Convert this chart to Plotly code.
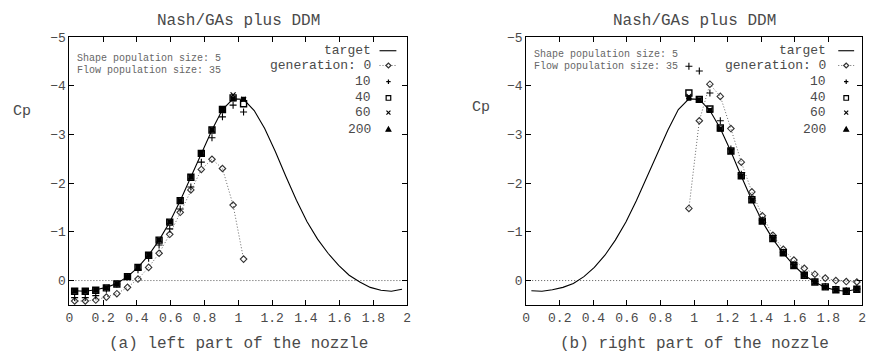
import plotly.graph_objects as go

# ---------------- data ----------------
x_grid = [0.031, 0.094, 0.156, 0.219, 0.281, 0.344, 0.406, 0.469, 0.531, 0.594,
          0.656, 0.719, 0.781, 0.844, 0.906, 0.969, 1.031, 1.094, 1.156, 1.219,
          1.281, 1.344, 1.406, 1.469, 1.531, 1.594, 1.656, 1.719, 1.781, 1.844,
          1.906, 1.969]
target = [0.21, 0.22, 0.19, 0.14, 0.06, -0.08, -0.27, -0.52, -0.83, -1.20,
          -1.64, -2.12, -2.61, -3.09, -3.51, -3.73, -3.72, -3.49, -3.12, -2.65,
          -2.14, -1.65, -1.21, -0.85, -0.56, -0.31, -0.11, 0.03, 0.14, 0.20,
          0.22, 0.18]

x_left = x_grid[:17]
x_right = x_grid[15:]

gen0_left = [0.42, 0.42, 0.40, 0.34, 0.27, 0.14, -0.03, -0.27, -0.56, -0.95,
             -1.40, -1.86, -2.28, -2.49, -2.30, -1.55, -0.44]
gen10_left = [0.35, 0.35, 0.31, 0.18, 0.07, -0.08, -0.22, -0.46, -0.73, -1.06,
              -1.47, -1.92, -2.43, -2.93, -3.36, -3.60, -3.46]
gen40_left = [0.22, 0.22, 0.20, 0.15, 0.07, -0.08, -0.27, -0.52, -0.83, -1.20,
              -1.64, -2.12, -2.61, -3.09, -3.51, -3.75, -3.63]
gen60_left = [0.21, 0.22, 0.19, 0.14, 0.06, -0.09, -0.28, -0.53, -0.84, -1.21,
              -1.65, -2.13, -2.62, -3.10, -3.53, -3.81, -3.72]
gen200_left = [0.22, 0.22, 0.20, 0.15, 0.07, -0.08, -0.27, -0.52, -0.83, -1.20,
               -1.64, -2.12, -2.61, -3.09, -3.51, -3.73, -3.72]

gen0_right = [-1.48, -3.28, -4.03, -3.78, -3.12, -2.43, -1.82, -1.33, -0.93,
              -0.64, -0.42, -0.25, -0.13, -0.05, 0.00, 0.02, 0.03]
gen10_right = [-4.40, -4.30, -3.85, -3.28, -2.70, -2.18, -1.68, -1.24, -0.88,
               -0.58, -0.33, -0.13, 0.02, 0.12, 0.18, 0.21, 0.17]
gen40_right = [-3.85, -3.72, -3.52, -3.13, -2.66, -2.15, -1.66, -1.22, -0.86,
               -0.57, -0.31, -0.11, 0.03, 0.13, 0.19, 0.22, 0.18]
gen60_right = [-3.78, -3.71, -3.50, -3.12, -2.65, -2.14, -1.65, -1.21, -0.85,
               -0.56, -0.31, -0.11, 0.03, 0.14, 0.20, 0.22, 0.18]
gen200_right = [-3.74, -3.71, -3.49, -3.11, -2.65, -2.14, -1.65, -1.21, -0.86,
                -0.56, -0.30, -0.11, 0.03, 0.13, 0.19, 0.22, 0.18]

title_text = "Nash/GAs plus DDM"
xlabels = ["(a) left part of the nozzle", "(b) right part of the nozzle"]
legend_labels = ["target", "generation: 0", "10", "40", "60", "200"]
info_lines = ["Shape population size: 5", "Flow population size: 35"]

# ---------------- layout helpers ----------------
W, H = 872, 358
FONT = "Liberation Mono, Courier New, monospace"
TXT = "#4a4a4a"
DOT = "1px,2px"


def px(x):
    return x / W


def py(y):
    return 1 - y / H


fig = go.Figure()

panels = [
    dict(xa="x", ya="y", left=66, right=407, x=x_left,
         g0=gen0_left, g10=gen10_left, g40=gen40_left, g60=gen60_left, g200=gen200_left,
         key_text=372, key_mid=388, key_l=379, key_r=396, cp_x=18, cp_y=107,
         info_x=72, info_y=[53, 66]),
    dict(xa="x2", ya="y2", left=527, right=866, x=x_right,
         g0=gen0_right, g10=gen10_right, g40=gen40_right, g60=gen60_right, g200=gen200_right,
         key_text=832, key_mid=850, key_l=842, key_r=858, cp_x=481, cp_y=103,
         info_x=533, info_y=[49, 62]),
]

shapes = []
annotations = []
key_rows = [45.5, 60.5, 77, 93.5, 108.5, 125.5]

for i, p in enumerate(panels):
    xa, ya = p["xa"], p["ya"]
    # target
    fig.add_trace(go.Scatter(x=x_grid, y=target, mode="lines", xaxis=xa, yaxis=ya,
                             line=dict(color="black", width=1.1), showlegend=False))
    fig.add_trace(go.Scatter(x=p["x"], y=p["g0"], mode="lines+markers", xaxis=xa, yaxis=ya,
                             line=dict(color="#666666", width=1, dash=DOT),
                             marker=dict(symbol="diamond-open", size=5, color="#333333",
                                         line=dict(width=1.1)),
                             showlegend=False))
    fig.add_trace(go.Scatter(x=p["x"], y=p["g10"], mode="markers", xaxis=xa, yaxis=ya,
                             marker=dict(symbol="cross-thin-open", size=5, color="black",
                                         line=dict(width=1.1, color="black")),
                             showlegend=False))
    fig.add_trace(go.Scatter(x=p["x"], y=p["g40"], mode="markers", xaxis=xa, yaxis=ya,
                             marker=dict(symbol="square-open", size=6, color="black",
                                         line=dict(width=1.4)),
                             showlegend=False))
    fig.add_trace(go.Scatter(x=p["x"], y=p["g60"], mode="markers", xaxis=xa, yaxis=ya,
                             marker=dict(symbol="x-thin-open", size=5, color="black",
                                         line=dict(width=1.2, color="black")),
                             showlegend=False))
    fig.add_trace(go.Scatter(x=p["x"], y=p["g200"], mode="markers", xaxis=xa, yaxis=ya,
                             marker=dict(symbol="square", size=5, color="black"),
                             showlegend=False))

    # dotted zero axis
    shapes.append(dict(type="line", xref=f"{xa} domain", yref=ya, x0=0, x1=1, y0=0, y1=0,
                       line=dict(color="#555555", width=1, dash=DOT), layer="below"))

    cx = (p["left"] + p["right"]) / 2
    annotations.append(dict(text=title_text, x=px(cx), y=py(15), xref="paper", yref="paper",
                            showarrow=False, xanchor="center", yanchor="middle",
                            font=dict(family=FONT, size=16, color=TXT)))
    annotations.append(dict(text=xlabels[i], x=px(cx), y=py(344), xref="paper", yref="paper",
                            showarrow=False, xanchor="center", yanchor="middle",
                            font=dict(family=FONT, size=16, color=TXT)))
    annotations.append(dict(text="Cp", x=px(p["cp_x"]), y=py(p["cp_y"]), xref="paper",
                            yref="paper", showarrow=False, xanchor="center", yanchor="middle",
                            font=dict(family=FONT, size=15, color=TXT)))
    for t, yy in zip(info_lines, p["info_y"]):
        annotations.append(dict(text=t, x=px(p["info_x"]), y=py(yy), xref="paper", yref="paper",
                                showarrow=False, xanchor="left", yanchor="middle",
                                font=dict(family=FONT, size=10, color="#666666")))
    # key
    for lab, yy in zip(legend_labels, key_rows):
        annotations.append(dict(text=lab, x=px(p["key_text"]), y=py(yy), xref="paper",
                                yref="paper", showarrow=False, xanchor="right", yanchor="middle",
                                font=dict(family=FONT, size=13, color=TXT)))
    mid = p["key_mid"]
    shapes.append(dict(type="line", xref="paper", yref="paper",
                       x0=px(p["key_l"]), x1=px(p["key_r"]),
                       y0=py(key_rows[0]), y1=py(key_rows[0]),
                       line=dict(color="black", width=1.1)))
    shapes.append(dict(type="line", xref="paper", yref="paper",
                       x0=px(p["key_l"]), x1=px(p["key_r"]),
                       y0=py(key_rows[1]), y1=py(key_rows[1]),
                       line=dict(color="#666666", width=1, dash=DOT)))
    marker_paths = [
        ("M -2.5,0 L 0,2.5 L 2.5,0 L 0,-2.5 Z", "white", "#333333"),
        ("M -2.2,0 L 2.2,0 M 0,-2.2 L 0,2.2", None, "black"),
        ("M -2.3,-2.3 L 2.3,-2.3 L 2.3,2.3 L -2.3,2.3 Z", "white", "black"),
        ("M -2,-2 L 2,2 M -2,2 L 2,-2", None, "black"),
        ("M -2.4,-1.8 L 2.4,-1.8 L 0,2.4 Z", "black", "black"),
    ]
    for (path, fill, col), yy in zip(marker_paths, key_rows[1:]):
        d = dict(type="path", xref="paper", yref="paper", xsizemode="pixel",
                 ysizemode="pixel", xanchor=px(mid), yanchor=py(yy), path=path,
                 line=dict(color=col, width=1.2))
        if fill:
            d["fillcolor"] = fill
        shapes.append(d)

axis_common = dict(range=[0, 2], dtick=0.2, tick0=0, ticks="inside", ticklen=5,
                   tickcolor="black", showline=True, linecolor="black", linewidth=1,
                   mirror="ticks", showgrid=False, zeroline=False,
                   tickfont=dict(family=FONT, size=13, color=TXT))
yaxis_common = dict(range=[0.5, -5], dtick=1, tick0=0, ticks="inside", ticklen=5,
                    tickcolor="black", showline=True, linecolor="black", linewidth=1,
                    mirror="ticks", showgrid=False, zeroline=False,
                    tickfont=dict(family=FONT, size=13, color=TXT))

ydom = [py(304), py(31.5)]
fig.update_layout(
    width=W, height=H, autosize=False,
    margin=dict(l=0, r=0, t=0, b=0),
    paper_bgcolor="white", plot_bgcolor="white",
    xaxis=dict(domain=[px(66), px(407)], anchor="y", **axis_common),
    yaxis=dict(domain=ydom, anchor="x", **yaxis_common),
    xaxis2=dict(domain=[px(527), px(866)], anchor="y2", **axis_common),
    yaxis2=dict(domain=ydom, anchor="x2", **yaxis_common),
    shapes=shapes,
    annotations=annotations,
    showlegend=False,
)

fig.write_html("out.html")
